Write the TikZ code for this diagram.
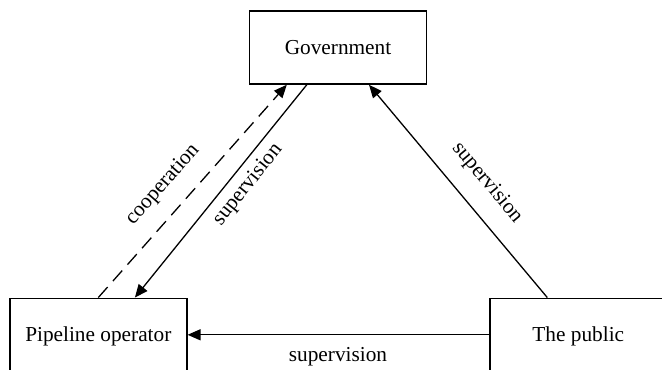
\documentclass[tikz,border=0pt]{standalone}
\usepackage{fontspec}
\setmainfont{Liberation Serif}
\usepackage{tikz}
\usetikzlibrary{arrows.meta}

\begin{document}
\begin{tikzpicture}[x=.5pt, y=-.5pt,
		party/.style={draw, line width=.75pt, minimum width=88.5pt, minimum height=36.5pt, text height=7pt, text depth=0pt, inner sep=0pt},
		link/.style={line width=.65pt, -{Triangle[length=6.5pt, width=5.5pt]}},
		lbl/.style={inner sep=0pt},
		every node/.style={font=\fontsize{10.65}{12}\selectfont}]
				\clip (0,0) rectangle (662,369);
				\node[party] (gov) at (338,47.5) {Government};
				\node[party] (pipe) at (98.3,334.8) {Pipeline operator};
				\node[party] (pub) at (578.3,334.8) {The public};
				\draw[link, dashed, dash pattern=on 7pt off 4pt] (pipe.north) -- ([xshift=-25.6pt]gov.south);
				\draw[link] ([xshift=-15.6pt]gov.south) -- ([xshift=18.3pt]pipe.north);
				\draw[link] ([xshift=-15.5pt]pub.north) -- ([xshift=15.5pt]gov.south);
				\draw[link] (pub.west) -- (pipe.east);
				\node[lbl, rotate=48.8] (coop) at (163,185) {cooperation};
				\node[lbl, rotate=51.3] (supl) at (248,185) {supervision};
				\node[lbl, rotate=-50.2] (supr) at (487,183) {supervision};
				\node[lbl] (supb) at (338,357) {supervision};
			\end{tikzpicture}
\end{document}
